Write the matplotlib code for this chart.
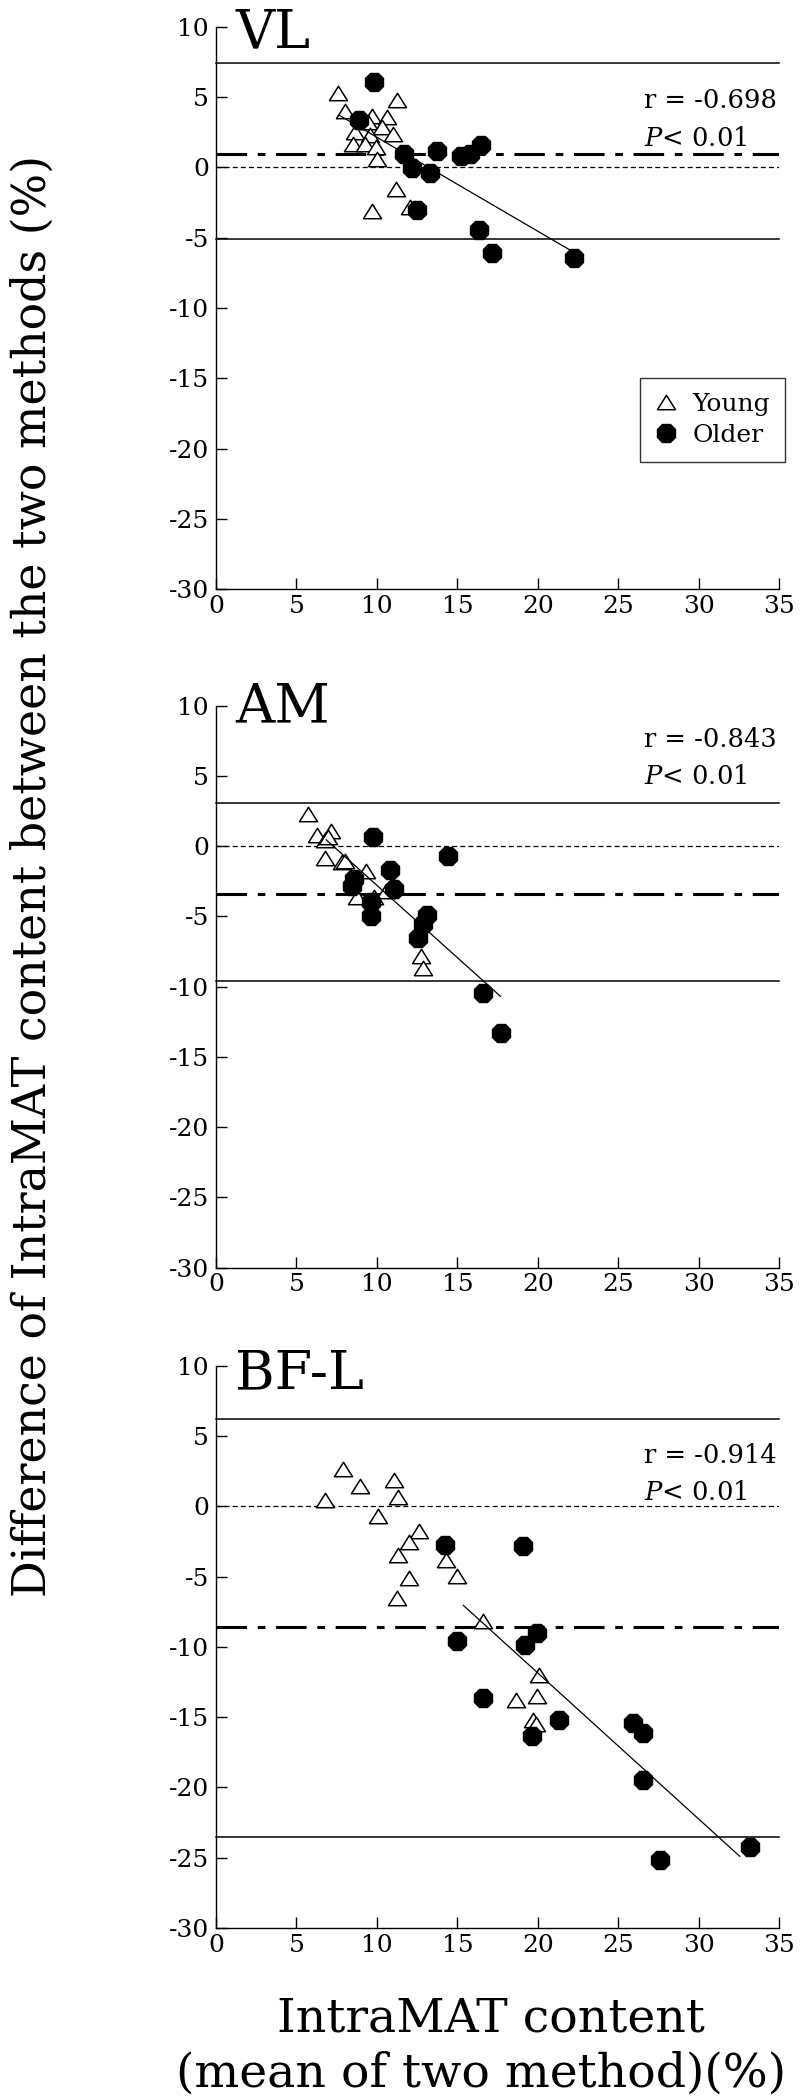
import numpy as np
import matplotlib
matplotlib.use("Agg")
import matplotlib.pyplot as plt
from matplotlib.path import Path

plt.rcParams['font.family'] = ['DejaVu Serif']
plt.rcParams['axes.unicode_minus'] = False
plt.rcParams['mathtext.fontset'] = 'dejavuserif'

# VL
vl_young_x = [7.57, 8.04, 9.71, 10.61, 11.25, 9.47, 10.3, 8.64, 11.02, 9.59, 8.52, 9.23, 9.95, 9.99, 11.18, 9.71, 12.04]
vl_young_y = [5.26, 3.99, 3.69, 3.57, 4.79, 3.22, 2.86, 2.51, 2.35, 2.28, 1.64, 1.64, 1.46, 0.63, -1.55, -3.08, -2.82]
vl_older_x = [9.83, 8.87, 11.68, 13.75, 12.16, 13.32, 15.25, 15.77, 16.49, 12.51, 16.32, 17.13, 22.27]
vl_older_y = [6.1, 3.4, 0.99, 1.17, -0.07, -0.38, 0.82, 0.99, 1.57, -3.0, -4.46, -6.1, -6.43]
vl_limits = [7.45, 0.92, -5.07]          # upper LoA, mean, lower LoA
vl_fit_x = [7.69, 22.27]
vl_fit_y = [3.69, -6.06]

# AM
am_young_x = [5.73, 6.26, 7.14, 6.8, 6.97, 6.8, 7.8, 8.04, 9.35, 8.76, 9.83, 10.54, 12.75, 12.85]
am_young_y = [2.32, 0.81, 1.07, 0.41, 0.64, -0.84, -1.15, -1.03, -1.74, -3.65, -3.65, -3.17, -7.83, -8.66]
am_older_x = [9.75, 14.39, 10.83, 8.57, 8.47, 11.09, 9.66, 9.64, 13.09, 12.85, 12.56, 16.61, 17.73]
am_older_y = [0.64, -0.67, -1.69, -2.34, -2.82, -3.05, -3.94, -4.96, -4.92, -5.56, -6.52, -10.45, -13.32]
am_limits = [3.08, -3.41, -9.62]
am_fit_x = [6.85, 17.68]
am_fit_y = [0.45, -10.69]

# BF-L
bf_young_x = [7.88, 8.95, 11.09, 6.8, 11.28, 10.06, 12.61, 11.97, 11.33, 14.28, 11.97, 14.99, 11.25, 16.61, 20.06, 19.94, 18.63, 19.7, 19.9]
bf_young_y = [2.65, 1.47, 1.85, 0.43, 0.64, -0.71, -1.78, -2.56, -3.44, -3.79, -5.09, -4.98, -6.52, -8.18, -11.97, -13.51, -13.79, -15.2, -15.5]
bf_older_x = [14.23, 19.06, 19.94, 19.22, 14.99, 16.61, 21.29, 19.65, 25.93, 26.55, 26.53, 27.6, 33.19]
bf_older_y = [-2.77, -2.8, -9.0, -9.88, -9.6, -13.6, -15.19, -16.33, -15.38, -16.14, -19.5, -25.14, -24.27]
bf_limits = [6.21, -8.6, -23.55]
bf_fit_x = [15.37, 32.55]
bf_fit_y = [-7.04, -24.9]

titles = ['VL', 'AM', 'BF-L']
r_values = ['-0.698', '-0.843', '-0.914']
r_text_y = [4.2, 7.04, 3.09]   # baseline of the r line

panels = [
    (vl_young_x, vl_young_y, vl_older_x, vl_older_y, vl_limits, vl_fit_x, vl_fit_y),
    (am_young_x, am_young_y, am_older_x, am_older_y, am_limits, am_fit_x, am_fit_y),
    (bf_young_x, bf_young_y, bf_older_x, bf_older_y, bf_limits, bf_fit_x, bf_fit_y),
]
title_y = [8.5, 8.8, 8.3]

tri = Path([(0, 0.8), (-1, -0.8), (1, -0.8), (0, 0.8)],
           [Path.MOVETO, Path.LINETO, Path.LINETO, Path.CLOSEPOLY])

fig = plt.figure(figsize=(8, 21), dpi=100)
bottoms = [0.7195, 0.3963, 0.0819]

for i, (yx, yy, ox, oy, lim, fx, fy) in enumerate(panels):
    ax = fig.add_axes([0.27, bottoms[i], 0.704, 0.2677])
    ax.set_xlim(0, 35)
    ax.set_ylim(-30, 10)
    ax.set_xticks(range(0, 36, 5))
    ax.set_yticks(range(-30, 11, 5))
    for s in ['top', 'right']:
        ax.spines[s].set_visible(False)
    for s in ['left', 'bottom']:
        ax.spines[s].set_linewidth(1.0)
    ax.tick_params(direction='in', length=8, width=1.0, labelsize=18, pad=5)
    ax.tick_params(axis='x', pad=4)

    ax.axhline(lim[0], color='black', lw=1.1, clip_on=False)
    ax.axhline(lim[2], color='black', lw=1.1, clip_on=False)
    ax.axhline(lim[1], color='black', lw=2.2, dashes=(10, 3.5, 2.5, 3.5))
    ax.axhline(0, color='black', lw=0.9, dashes=(4, 2.5))
    ax.plot(fx, fy, color='black', lw=0.9, zorder=4)

    ax.plot(yx, yy, linestyle='none', marker=tri, markersize=13,
            markerfacecolor='white', markeredgecolor='black', markeredgewidth=1.1,
            label='Young', zorder=3)
    ax.plot(ox, oy, linestyle='none', marker='8', markersize=13.5,
            markerfacecolor='black', markeredgecolor='black',
            label='Older', zorder=3)

    ax.text(1.2, title_y[i], titles[i], fontsize=39, va='baseline', ha='left', clip_on=False)
    ax.text(26.6, r_text_y[i], 'r = ' + r_values[i], fontsize=18.5, va='baseline', ha='left')
    ax.text(26.6, r_text_y[i] - 2.65, r'$\mathit{P}$< 0.01', fontsize=18.5, va='baseline', ha='left')

    if i == 0:
        leg = ax.legend(loc='upper right', bbox_to_anchor=(1.01, 0.375), fontsize=18,
                        frameon=True, fancybox=False, handlelength=0.9,
                        handletextpad=0.6, borderpad=0.6, labelspacing=0.3,
                        borderaxespad=0)
        leg.get_frame().set_edgecolor('black')
        leg.get_frame().set_linewidth(1.0)

fig.text(0.041, 0.583, 'Difference of IntraMAT content between the two methods (%)',
         rotation=90, fontsize=33, ha='center', va='center')
fig.text(0.614, 1 - 2032 / 2100, 'IntraMAT content', fontsize=34, ha='center', va='baseline')
fig.text(0.601, 1 - 2087 / 2100, '(mean of two method)(%)', fontsize=34, ha='center', va='baseline')

fig.savefig('out.png', dpi=100)
